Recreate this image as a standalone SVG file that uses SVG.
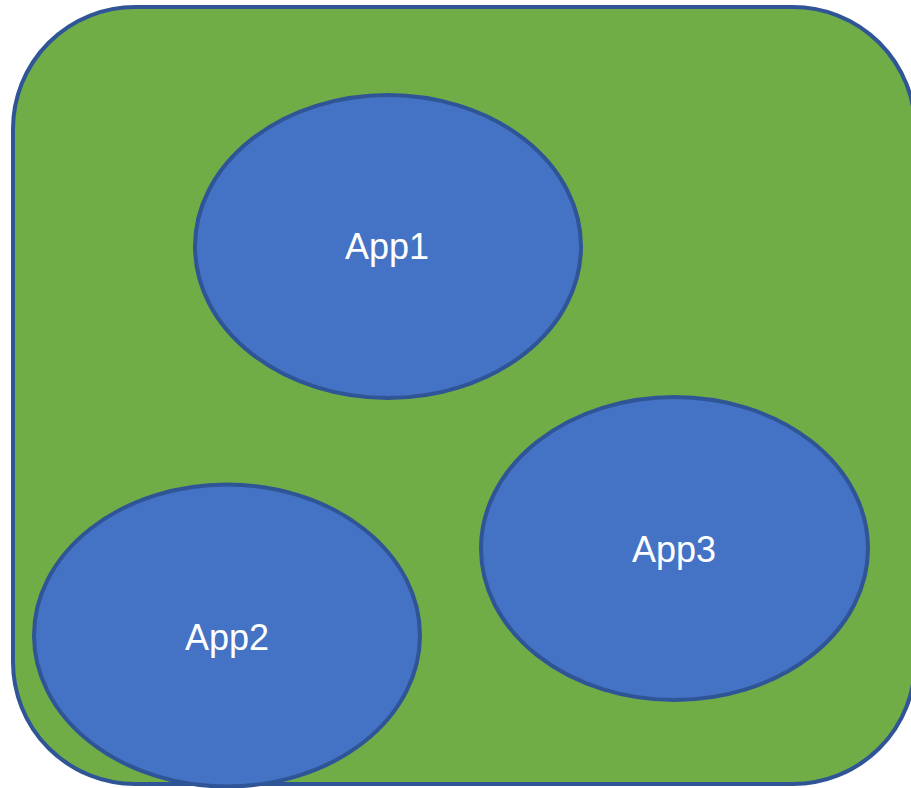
<svg xmlns="http://www.w3.org/2000/svg" width="911" height="788" viewBox="0 0 911 788">
  <style>
    .frame { fill: #70AD47; stroke: #2F5597; stroke-width: 4; }
    .app { fill: #4472C4; stroke: #2F5597; stroke-width: 4; }
    .label { fill: #FFFFFF; font-family: "Liberation Sans", Arial, sans-serif; font-size: 36px; text-anchor: middle; }
  </style>
  <g id="host">
    <rect class="frame" x="13" y="7" width="902" height="777" rx="122" ry="122"/>
  </g>
  <g id="connectors"></g>
  <g id="app1">
    <ellipse class="app" cx="388" cy="246.5" rx="193" ry="151.5"/>
    <text class="label" x="387" y="259">App1</text>
  </g>
  <g id="app2">
    <ellipse class="app" cx="227" cy="635.5" rx="193" ry="151"/>
    <text class="label" x="227" y="650">App2</text>
  </g>
  <g id="app3">
    <ellipse class="app" cx="674.5" cy="548.5" rx="193.5" ry="151.5"/>
    <text class="label" x="674" y="562">App3</text>
  </g>
</svg>
